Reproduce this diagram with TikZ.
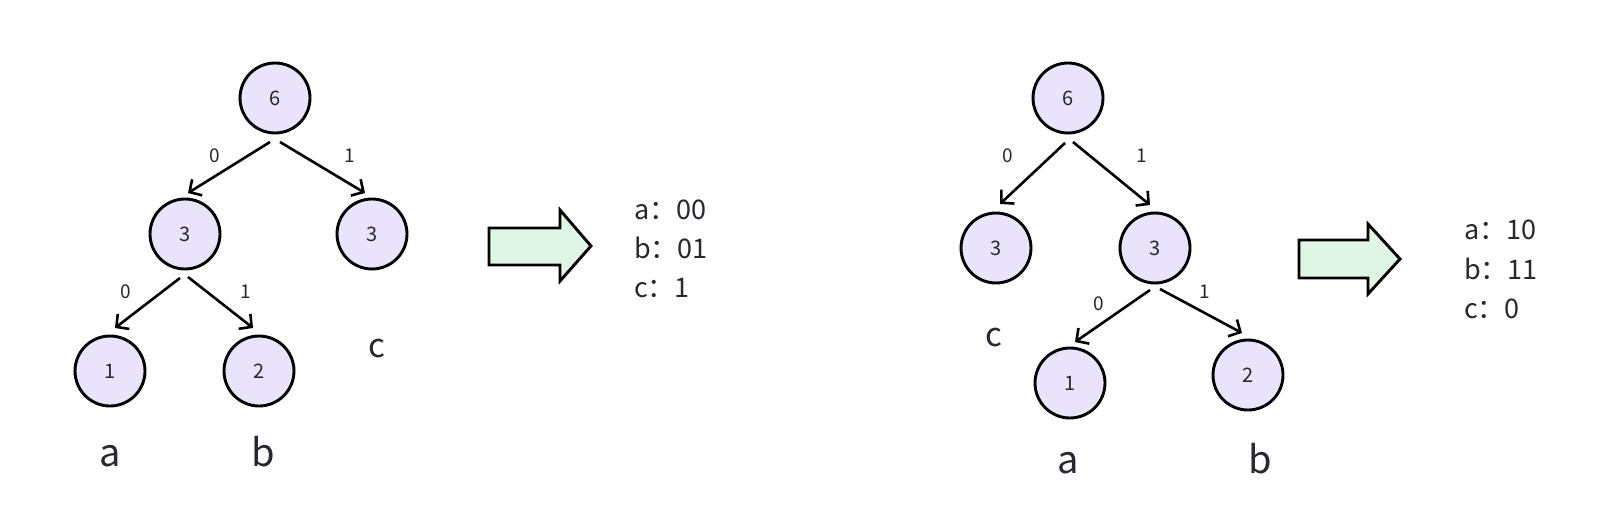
\documentclass[tikz,border=0pt]{standalone}
\usepackage{fontspec}
\setmainfont{Noto Sans CJK SC}
\usetikzlibrary{arrows.meta}
\definecolor{nodefill}{RGB}{233,227,252}
\definecolor{arrowfill}{RGB}{223,245,229}
\definecolor{txt}{RGB}{40,40,48}
\begin{document}
\begin{tikzpicture}[x=1pt,y=-1pt,
  hnode/.style={circle,draw=black,line width=2.9pt,fill=nodefill,minimum size=70pt,inner sep=0pt,font=\fontsize{20}{20}\selectfont,text=txt},
  edge/.style={line width=2.6pt,-{Straight Barb[length=9pt,width=19pt]}},
  bitlbl/.style={font=\fontsize{19}{19}\selectfont,text=txt,inner sep=0pt},
  leaflbl/.style={font=\fontsize{38}{38}\selectfont,text=txt,anchor=base,inner sep=0pt},
  codelbl/.style={font=\fontsize{27}{27}\selectfont,text=txt,anchor=base west,inner sep=0pt},
  bigarrow/.style={draw=black,line width=2.9pt,fill=arrowfill,line join=miter}]
\useasboundingbox[fill=white] (0,0) rectangle (1611,513);

% ---------- left tree ----------
\node[hnode] (la6) at (275,98) {6};
\node[hnode] (la3) at (185,234) {3};
\node[hnode] (lb3) at (372,234) {3};
\node[hnode] (la1) at (110,371) {1};
\node[hnode] (la2) at (259,371) {2};

\draw[edge] ([shift={(-5,44)}]la6.center) -- ([shift={(3,-41)}]la3.center);
\draw[edge] ([shift={(5,44)}]la6.center) -- ([shift={(-7,-41)}]lb3.center);
\draw[edge] ([shift={(-5,44)}]la3.center) -- ([shift={(5,-43)}]la1.center);
\draw[edge] ([shift={(3,43)}]la3.center) -- ([shift={(-6,-43)}]la2.center);

\node[bitlbl] (lt0) at (215,156) {0};
\node[bitlbl] (lt1) at (350,156) {1};
\node[bitlbl] (lm0) at (126,292) {0};
\node[bitlbl] (lm1) at (246,292) {1};

\node[leaflbl] (lla) at (110,466) {a};
\node[leaflbl] (llb) at (263,466) {b};
\node[leaflbl,font=\fontsize{33}{33}\selectfont] (llc) at (377,357) {c};

\draw[bigarrow] (489,228) -- (560,228) -- (560,210) -- (591,246) -- (560,281) -- (560,265) -- (489,265) -- cycle;

\node[codelbl] (lca) at (634,219) {a：00};
\node[codelbl] (lcb) at (634,258) {b：01};
\node[codelbl] (lcc) at (634,297) {c：1};

% ---------- right tree ----------
\node[hnode] (ra6) at (1068,98) {6};
\node[hnode] (ra3) at (996,248) {3};
\node[hnode] (rb3) at (1155,248) {3};
\node[hnode] (ra1) at (1070,383) {1};
\node[hnode] (ra2) at (1248,375) {2};

\draw[edge] ([shift={(-3,45)}]ra6.center) -- ([shift={(4,-44)}]ra3.center);
\draw[edge] ([shift={(5,44)}]ra6.center) -- ([shift={(-5,-43)}]rb3.center);
\draw[edge] ([shift={(-5,42)}]rb3.center) -- ([shift={(5,-41)}]ra1.center);
\draw[edge] ([shift={(5,41)}]rb3.center) -- ([shift={(-6,-42)}]ra2.center);

\node[bitlbl] (rt0) at (1008,156) {0};
\node[bitlbl] (rt1) at (1142,156) {1};
\node[bitlbl] (rm0) at (1099,304) {0};
\node[bitlbl] (rm1) at (1205,292) {1};

\node[leaflbl] (rla) at (1068,473) {a};
\node[leaflbl] (rlb) at (1260,473) {b};
\node[leaflbl,font=\fontsize{33}{33}\selectfont] (rlc) at (994,346) {c};

\draw[bigarrow] (1299,240) -- (1368,240) -- (1368,224) -- (1400,259) -- (1368,294) -- (1368,278) -- (1299,278) -- cycle;

\node[codelbl] (rca) at (1464,239) {a：10};
\node[codelbl] (rcb) at (1464,279) {b：11};
\node[codelbl] (rcc) at (1464,318) {c：0};
\end{tikzpicture}
\end{document}
